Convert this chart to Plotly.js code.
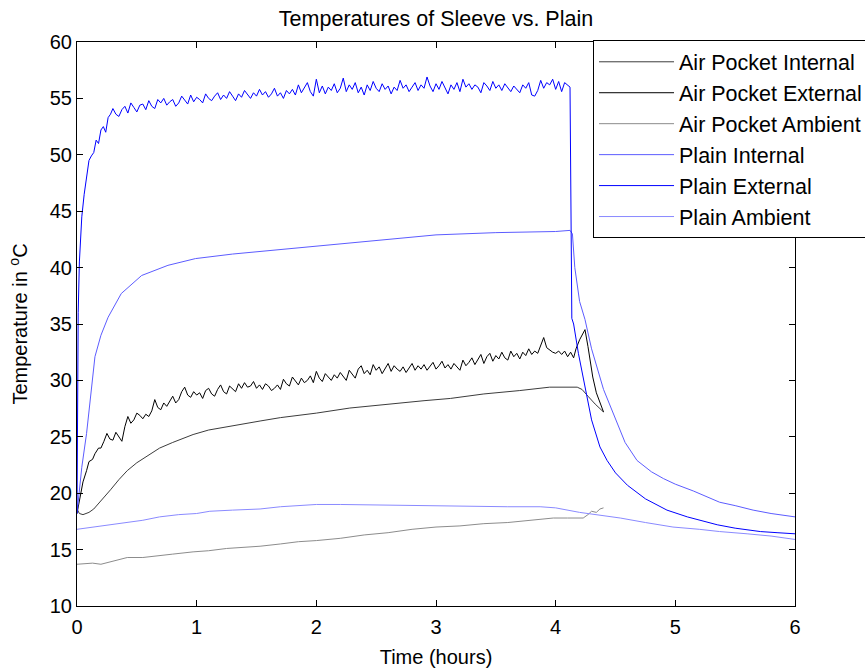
<!DOCTYPE html>
<html>
<head>
<meta charset="utf-8">
<script src="https://cdn.plot.ly/plotly-3.0.1.min.js"></script>
<style>html,body{margin:0;padding:0;background:#fff;}#chart{width:865px;height:669px;}</style>
</head>
<body>
<div id="chart"></div>
<script>
// ---- Data (hours, degrees C) ----
const seriesNames = ["Air Pocket Internal","Air Pocket External","Air Pocket Ambient","Plain Internal","Plain External","Plain Ambient"];

const apIntT = [0,0.02,0.05,0.1,0.14,0.2,0.28,0.35,0.42,0.5,0.6,0.69,0.8,0.97,1.1,1.25,1.4,1.53,1.7,2.0,2.28,2.6,2.9,3.12,3.4,3.7,3.95,4.18,4.22,4.27,4.33,4.4];
const apIntV = [18.6,18.2,18.1,18.3,18.6,19.3,20.3,21.2,22.0,22.7,23.4,24.0,24.5,25.2,25.6,25.9,26.2,26.4,26.7,27.1,27.55,27.9,28.2,28.4,28.8,29.1,29.4,29.4,29.2,28.6,27.9,27.2];

const apExtT = [0,0.025,0.05,0.08,0.1,0.13,0.15,0.18,
  0.2,0.225,0.25,0.275,0.3,0.325,0.35,0.375,0.4,0.425,
  0.45,0.475,0.5,0.525,0.55,0.575,0.6,0.625,0.65,0.675,
  0.7,0.725,0.75,0.775,0.8,0.825,0.85,0.875,0.9,0.925,
  0.95,0.975,1.0,1.025,1.05,1.075,1.1,1.125,1.15,1.175,
  1.2,1.225,1.25,1.275,1.3,1.325,1.35,1.375,1.4,1.425,
  1.45,1.475,1.5,1.525,1.55,1.575,1.6,1.625,1.65,1.675,
  1.7,1.725,1.75,1.775,1.8,1.825,1.85,1.875,1.9,1.925,
  1.95,1.975,2.0,2.025,2.05,2.075,2.1,2.125,2.15,2.175,
  2.2,2.225,2.25,2.275,2.3,2.325,2.35,2.375,2.4,2.425,
  2.45,2.475,2.5,2.525,2.55,2.575,2.6,2.625,2.65,2.675,
  2.7,2.725,2.75,2.775,2.8,2.825,2.85,2.875,2.9,2.925,
  2.95,2.975,3.0,3.025,3.05,3.075,3.1,3.125,3.15,3.175,
  3.2,3.225,3.25,3.275,3.3,3.325,3.35,3.375,3.4,3.425,
  3.45,3.475,3.5,3.525,3.55,3.575,3.6,3.625,3.65,3.675,
  3.7,3.725,3.75,3.775,3.8,3.825,3.85,3.875,3.9,3.925,
  3.95,3.975,4.0,4.025,4.05,4.075,4.1,4.125,
  4.15,4.17,4.2,4.245,4.27,4.29,4.31,4.34,4.4];
const apExtV = [18.2,19.6,21.0,22.0,22.8,23.0,23.5,24.0,
  24.0,24.6,25.3,24.8,24.7,25.4,25.0,24.6,25.9,26.8,
  26.2,26.5,27.1,26.9,26.6,27.0,26.8,27.3,28.3,27.6,
  27.4,28.0,27.7,28.2,28.6,28.0,28.3,29.0,29.4,28.7,
  28.5,29.0,28.7,28.9,28.4,29.1,29.3,28.8,28.6,29.2,
  29.6,29.0,28.8,29.5,29.2,29.0,29.7,29.3,29.8,29.4,
  29.5,29.9,29.3,29.6,29.2,29.7,29.5,29.1,29.3,29.6,
  29.2,30.1,29.7,29.5,30.3,29.9,29.6,30.2,29.8,30.0,
  30.4,29.8,30.8,30.2,29.9,30.6,30.3,30.0,30.5,30.2,
  30.7,30.3,30.0,30.9,30.5,30.2,31.0,31.3,30.6,30.9,
  30.5,31.4,30.9,31.2,30.6,31.0,31.5,30.8,31.3,31.0,
  30.8,31.2,30.7,31.1,31.5,30.9,31.3,31.0,31.4,30.9,
  31.2,31.6,31.0,31.3,31.7,31.1,31.4,31.0,31.5,31.2,
  30.9,31.8,31.3,31.6,32.0,31.4,31.9,32.3,31.5,32.1,
  32.4,31.7,32.2,31.9,32.5,32.0,31.8,32.6,32.1,32.4,
  31.9,32.5,32.2,32.8,32.3,32.6,32.4,33.2,33.8,32.9,
  32.7,32.5,32.4,32.6,32.3,32.6,32.1,32.5,
  32.0,32.8,33.6,34.5,33.0,31.8,30.3,28.9,27.2];

const apAmbT = [0,0.13,0.2,0.3,0.42,0.55,0.69,0.8,0.97,1.1,1.25,1.4,1.53,1.7,1.85,2.0,2.2,2.4,2.6,2.8,3.0,3.2,3.4,3.6,3.7,3.85,3.98,4.1,4.23,4.27,4.3,4.34,4.37,4.4];
const apAmbV = [13.7,13.8,13.7,14.0,14.3,14.3,14.5,14.6,14.8,14.9,15.1,15.2,15.3,15.5,15.7,15.8,16.0,16.3,16.5,16.8,17.0,17.1,17.3,17.4,17.5,17.7,17.8,17.8,17.8,18.1,18.4,18.3,18.6,18.7];

const plIntT = [0,0.01,0.04,0.08,0.11,0.15,0.2,0.26,0.37,0.54,0.76,0.99,1.3,1.6,2.0,2.5,3.0,3.5,4.0,4.12,4.14,4.16,4.2,4.245,4.3,4.4,4.5,4.58,4.68,4.8,4.9,5.0,5.15,5.37,5.5,5.65,5.8,6.0];
const plIntV = [18.2,19.4,22.3,25.3,28.3,32.1,34.0,35.6,37.7,39.3,40.2,40.8,41.2,41.5,41.9,42.4,42.9,43.1,43.2,43.3,43.0,40.0,37.0,35.4,32.8,29.2,26.5,24.5,22.9,21.9,21.3,20.8,20.2,19.2,18.9,18.5,18.2,17.9];

const plExtT = [0,0.005,0.01,0.02,0.03,0.04,0.06,0.08,0.1,0.12,0.14,0.16,0.18,0.2,0.22,0.24,0.26,0.28,
  0.3,0.325,0.35,0.375,0.4,0.425,0.45,0.475,0.5,0.525,
  0.55,0.575,0.6,0.625,0.65,0.675,0.7,0.725,0.75,0.775,
  0.8,0.825,0.85,0.875,0.9,0.925,0.95,0.975,1.0,1.025,
  1.05,1.075,1.1,1.125,1.15,1.175,1.2,1.225,1.25,1.275,
  1.3,1.325,1.35,1.375,1.4,1.425,1.45,1.475,1.5,1.525,
  1.55,1.575,1.6,1.625,1.65,1.675,1.7,1.725,1.75,1.775,
  1.8,1.825,1.85,1.875,1.9,1.925,1.95,1.975,2.0,2.025,
  2.05,2.075,2.1,2.125,2.15,2.175,2.2,2.225,2.25,2.275,
  2.3,2.325,2.35,2.375,2.4,2.425,2.45,2.475,2.5,2.525,
  2.55,2.575,2.6,2.625,2.65,2.675,2.7,2.725,2.75,2.775,
  2.8,2.825,2.85,2.875,2.9,2.925,2.95,2.975,3.0,3.025,
  3.05,3.075,3.1,3.125,3.15,3.175,3.2,3.225,3.25,3.275,
  3.3,3.325,3.35,3.375,3.4,3.425,3.45,3.475,3.5,3.525,
  3.55,3.575,3.6,3.625,3.65,3.675,3.7,3.725,3.75,3.775,
  3.8,3.825,3.85,3.875,3.9,3.925,3.95,3.975,4.0,4.025,
  4.05,4.075,4.1,
  4.12,4.135,4.15,4.19,4.25,4.3,4.37,4.43,4.5,4.6,4.75,4.93,5.1,5.35,5.5,5.71,5.85,6.0];
const plExtV = [18.2,28.0,36.0,40.5,43.0,44.5,46.5,48.2,49.5,49.9,50.2,51.3,51.0,52.2,52.5,52.0,53.3,53.6,
  54.1,53.6,53.4,54.0,54.3,53.7,54.6,54.2,53.8,54.4,
  54.5,54.0,54.8,54.3,54.1,54.9,54.6,55.0,54.4,54.7,
  54.9,54.3,54.6,55.2,54.8,54.5,55.3,54.7,55.1,54.9,
  54.6,55.4,55.0,54.8,55.2,55.5,54.9,55.3,55.0,55.6,
  55.2,54.8,55.4,55.1,55.7,55.3,55.0,55.5,55.2,55.8,
  55.3,55.6,55.1,55.4,55.9,55.2,55.5,55.0,55.7,55.4,
  55.8,55.3,56.2,55.5,55.9,56.4,55.6,55.2,56.7,55.5,
  56.1,55.4,56.0,55.7,56.3,55.5,55.9,56.8,55.6,56.2,
  55.8,56.4,55.5,56.0,55.3,56.2,55.7,56.5,55.9,55.6,
  56.3,55.8,56.1,55.4,56.0,55.7,56.6,55.9,56.2,55.6,
  56.0,56.4,55.7,56.2,55.9,56.9,56.1,55.6,56.3,55.8,
  56.5,55.9,55.4,56.2,55.8,56.4,55.6,56.7,56.0,56.3,
  55.8,56.2,56.0,55.5,56.4,56.1,55.7,56.5,55.9,56.2,
  55.7,56.3,56.0,55.6,56.1,55.8,55.5,56.2,55.9,56.4,
  55.3,55.2,55.7,56.6,55.9,56.4,56.2,56.7,55.8,56.5,
  55.6,56.4,56.2,
  56.0,35.5,35.0,32.4,29.0,26.5,24.1,22.9,21.8,20.7,19.5,18.5,17.9,17.2,16.9,16.6,16.5,16.4];

const plAmbT = [0,0.13,0.25,0.42,0.55,0.69,0.85,1.0,1.11,1.3,1.53,1.7,1.9,2.0,2.2,2.5,2.8,3.0,3.3,3.6,3.87,4.0,4.2,4.4,4.54,4.75,4.98,5.2,5.37,5.6,5.8,6.0];
const plAmbV = [16.8,17.0,17.2,17.4,17.6,17.9,18.1,18.2,18.4,18.5,18.6,18.8,18.9,19.0,19.0,18.95,18.9,18.9,18.85,18.8,18.8,18.7,18.3,18.0,17.8,17.4,17.0,16.8,16.6,16.4,16.2,15.9];

const xTicks = [0,1,2,3,4,5,6];
const yTicks = [10,15,20,25,30,35,40,45,50,55,60];

const xs = [apIntT, apExtT, apAmbT, plIntT, plExtT, plAmbT];
const ys = [apIntV, apExtV, apAmbV, plIntV, plExtV, plAmbV];
const colors = ["#3c3c3c","#000000","#8c8c8c","#5c5cff","#0000ff","#8a8aff"];

const FONT = "Liberation Sans, Arial, Helvetica, sans-serif";

// the reference legend box runs past the right edge of the figure: pad the longest entry
const legendNames = seriesNames.map(n => n === "Air Pocket Ambient" ? n + "\u00a0\u00a0" : n);

const traces = seriesNames.map((n, i) => ({
  type: "scatter", mode: "lines", name: legendNames[i],
  x: xs[i], y: ys[i],
  legendgroup: "g" + i,
  line: {color: colors[i], width: 1}
}));

const layout = {
  width: 865, height: 669,
  paper_bgcolor: "#ffffff", plot_bgcolor: "#ffffff",
  margin: {l: 77, r: 70, t: 42, b: 63, autoexpand: false},
  font: {family: FONT, size: 20, color: "#000"},
  title: {text: "Temperatures of Sleeve vs. Plain", font: {family: FONT, size: 21.5, color: "#000"}, x: 0.5, xref: "paper", y: 0.984, yref: "container", yanchor: "top"},
  xaxis: {
    range: [0, 6], tickvals: xTicks, ticktext: xTicks.map(String),
    showgrid: false, zeroline: false, showline: true, linecolor: "#000", linewidth: 1,
    mirror: "ticks", ticks: "inside", ticklen: 6, tickcolor: "#000",
    ticklabelstandoff: 3,
    tickfont: {family: FONT, size: 20, color: "#000"},
    title: {text: "Time (hours)", font: {family: FONT, size: 20, color: "#000"}, standoff: 12}
  },
  yaxis: {
    range: [10, 60], tickvals: yTicks, ticktext: yTicks.map(String),
    showgrid: false, zeroline: false, showline: true, linecolor: "#000", linewidth: 1,
    mirror: "ticks", ticks: "inside", ticklen: 6, tickcolor: "#000",
    tickfont: {family: FONT, size: 20, color: "#000"},
    title: {text: "Temperature in <sup>o</sup>C", font: {family: FONT, size: 20, color: "#000"}, standoff: 16}
  },
  showlegend: true,
  legend: {
    x: 0.7187, xanchor: "left", y: 1.003, yanchor: "top",
    bgcolor: "#ffffff", bordercolor: "#000", borderwidth: 1,
    font: {family: FONT, size: 21.5, color: "#000"},
    itemwidth: 75, tracegroupgap: 0, traceorder: "normal"
  }
};

Plotly.newPlot("chart", traces, layout, {displayModeBar: false, staticPlot: true});
</script>
</body>
</html>
